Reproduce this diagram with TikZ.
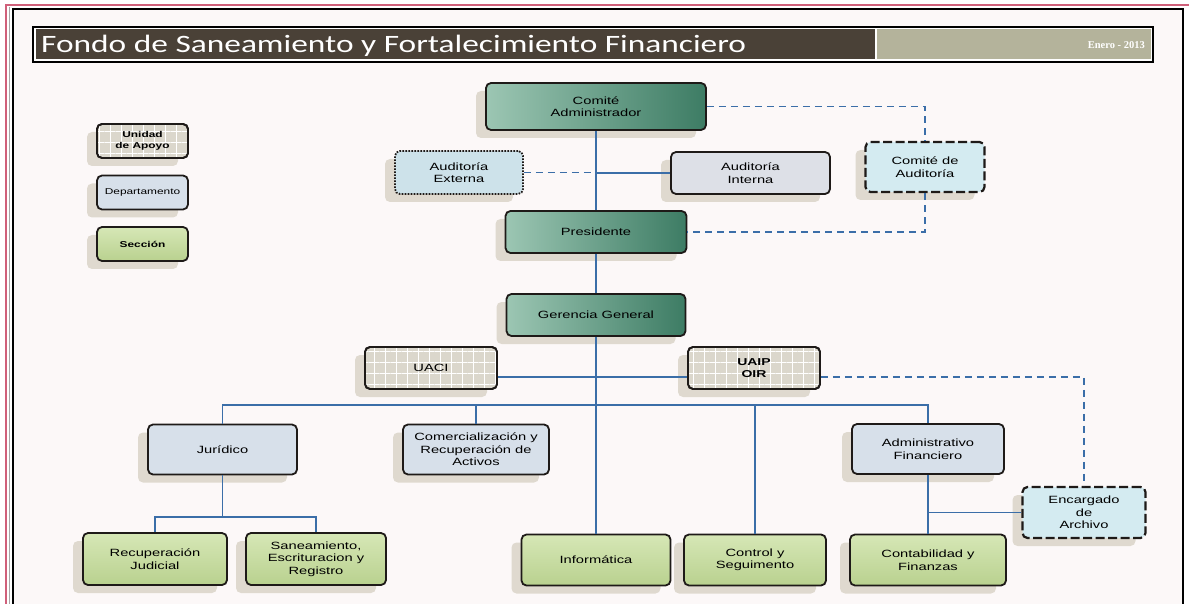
\documentclass[tikz,border=0pt]{standalone}
\usepackage{fontspec}
\setmainfont{Liberation Sans}
\newfontfamily\boxfont[FakeStretch=1.4]{Liberation Sans}
\newfontfamily\titlefont{Carlito}
\newfontfamily\datefont{Liberation Serif}
\usetikzlibrary{shadows,patterns.meta}
\definecolor{tealL}{HTML}{9CC6B3}
\definecolor{tealD}{HTML}{3D7C64}
\definecolor{deptc}{HTML}{D7E0EA}
\definecolor{secL}{HTML}{D6E7B6}
\definecolor{secD}{HTML}{B9D18F}
\definecolor{unitc}{HTML}{DBD7CC}
\definecolor{aextc}{HTML}{CDE2EA}
\definecolor{aintc}{HTML}{DDE0E7}
\definecolor{caudc}{HTML}{D4EBF1}
\definecolor{shadowc}{HTML}{DCD6CB}
\definecolor{linec}{HTML}{3B6EA8}
\definecolor{brownc}{HTML}{4A4137}
\definecolor{khakic}{HTML}{B4B39B}
\definecolor{pinkc}{HTML}{D0607A}
\definecolor{bgc}{HTML}{FCF8F8}
\definecolor{borderc}{HTML}{1E1A18}
\newsavebox\titlebox
\sbox\titlebox{\color{white}\titlefont\fontsize{25}{25}\selectfont Fondo de Saneamiento y Fortalecimiento Financiero}
\begin{document}
\begin{tikzpicture}[x=1pt,y=-1pt,
  orgbox/.style={draw=borderc, line width=1.8pt, rounded corners=5pt, align=center,
    inner sep=1pt, font=\boxfont\fontsize{10.5}{12.5}\selectfont,
    drop shadow={shadow xshift=-10pt, shadow yshift=-8pt, fill=shadowc, opacity=.9}},
  wh/.style 2 args={minimum width=#1pt, minimum height=#2pt},
  tealbox/.style={orgbox, left color=tealL, right color=tealD},
  deptbox/.style={orgbox, fill=deptc},
  secbox/.style={orgbox, top color=secL, bottom color=secD},
  unitbox/.style={orgbox, fill=unitc,
    postaction={pattern={Hatch[angle=0,distance=11pt,line width=0.8pt]}, pattern color=white, fill opacity=.4, draw=borderc, line width=1.8pt}},
  aextbox/.style={orgbox, fill=aextc, dash pattern=on 1.6pt off 1.4pt},
  aintbox/.style={orgbox, fill=aintc},
  caudbox/.style={orgbox, fill=caudc, line width=2.2pt, dash pattern=on 9pt off 3.5pt},
  conn/.style={draw=linec, line width=1.8pt},
  dconn/.style={draw=linec, line width=1.4pt, dash pattern=on 7pt off 5pt},
  legend/.style={font=\boxfont\bfseries\fontsize{8.5}{11}\selectfont}]
\useasboundingbox (0,0) rectangle (1189,604);
% page background and frame
\fill[white] (0,0) rectangle (1189,604);
\fill[bgc] (13,9) rectangle (1183,604);
\draw[pinkc, line width=1.6pt] (6,604) -- (6,5) -- (1189,5);
\draw[black!35, line width=1pt] (9.5,604) -- (9.5,7);
\draw[black, line width=1.5pt] (13,604) -- (13,9) -- (1183,9) -- (1183,604);
% title bar
\draw[black, line width=1.5pt, fill=white] (33,27) rectangle (1153,62);
\fill[brownc] (35.5,29.5) rectangle (875,59.5);
\fill[khakic] (876.5,29.5) rectangle (1150.5,59.5);
\pgfmathsetmacro\tsx{705/\the\wd\titlebox}
\node[anchor=base west, inner sep=0pt] (title) at (41,53) {\scalebox{\tsx}[1]{\usebox\titlebox}};
\node[anchor=base east, inner sep=0pt, text=white, font=\datefont\bfseries\fontsize{10.5}{10.5}\selectfont] (date) at (1145,49) {Enero - 2013};
% legend
\node[unitbox, legend, wh={91}{34}] (ua) at (142.5,141) {Unidad\\de Apoyo};
\node[deptbox, font=\boxfont\fontsize{8.5}{11}\selectfont, wh={91}{34}] (dep) at (142.5,192.5) {Departamento};
\node[secbox, legend, wh={91}{34}] (sec) at (142.5,244) {Sección};
% nodes
\node[tealbox, wh={220}{47}] (ca) at (596,106.5) {Comité\\Administrador};
\node[aextbox, wh={128}{43}] (ae) at (459,172.5) {Auditoría\\Externa};
\node[aintbox, wh={159}{42}] (ai) at (750.5,173) {Auditoría\\Interna};
\node[caudbox, wh={119}{50}] (cau) at (925,167) {Comité de\\Auditoría};
\node[tealbox, wh={181}{42}] (pres) at (596,232) {Presidente};
\node[tealbox, wh={179}{42}] (gg) at (596,315) {Gerencia General};
\node[unitbox, wh={132}{42}] (uaci) at (431,368) {UACI};
\node[unitbox, wh={132}{42}, font=\boxfont\bfseries\fontsize{10}{12}\selectfont] (uaip) at (754,368) {UAIP\\OIR};
\node[deptbox, wh={149}{50}] (jur) at (222.5,449.5) {Jurídico};
\node[deptbox, wh={146}{50}] (com) at (476,449.5) {Comercialización y\\Recuperación de\\Activos};
\node[deptbox, wh={152}{50}] (adf) at (928,449) {Administrativo\\Financiero};
\node[caudbox, wh={123}{51}] (enc) at (1084,512.5) {Encargado\\de\\Archivo};
\node[secbox, wh={144}{52}] (rj) at (155,559) {Recuperación\\Judicial};
\node[secbox, wh={140}{52}] (san) at (316,559) {Saneamiento,\\Escrituracion y\\Registro};
\node[secbox, wh={149}{51}] (inf) at (596,560) {Informática};
\node[secbox, wh={142}{51}] (cys) at (755,560) {Control y\\Seguimento};
\node[secbox, wh={156}{51}] (cyf) at (928,560) {Contabilidad y\\Finanzas};
% connectors
\draw[conn] (ca.south) -- (pres.north);
\draw[conn] (pres.south) -- (gg.north);
\draw[conn] (gg.south) -- (inf.north);
\draw[dconn] (ae.east) -- (ae.east -| ca.south);
\draw[conn] (ai.west) -- (ai.west -| ca.south);
\draw[dconn] (ca.east) -| (cau.north);
\draw[dconn] (cau.south) |- (pres.east);
\draw[conn] ([yshift=-9pt]uaci.east) -- ([yshift=-9pt]uaci.east -| gg.south);
\draw[conn] ([yshift=-9pt]uaip.west) -- ([yshift=-9pt]uaip.west -| gg.south);
\draw[dconn] ([yshift=-9pt]uaip.east) -| (enc.north);
\coordinate (bus) at (596,405);
\draw[conn] (jur.north) |- (bus) -| (adf.north);
\draw[conn] (com.north) -- (com.north |- bus);
\draw[conn] (cys.north) -- (cys.north |- bus);
\coordinate (jb) at (222.5,517);
\draw[conn] (jur.south) -- (jb);
\draw[conn] (rj.north) |- (jb) -| (san.north);
\draw[conn] (adf.south) -- (cyf.north);
\draw[conn, line width=1.3pt] (enc.west) -- (enc.west -| adf.south);
\end{tikzpicture}
\end{document}
